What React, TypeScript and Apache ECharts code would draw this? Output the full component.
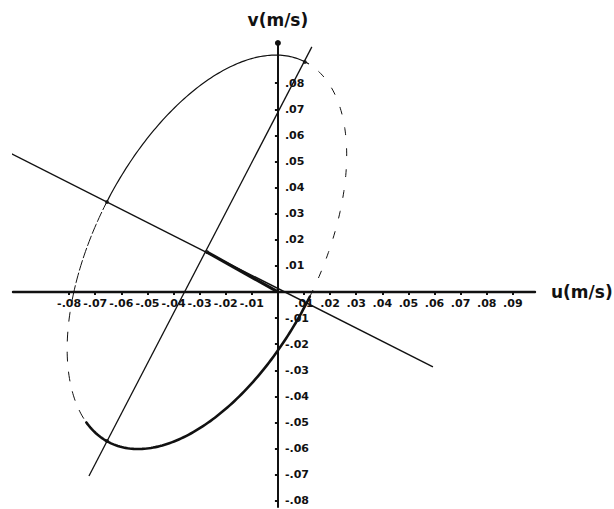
import { useEffect, useRef } from "react";
import * as echarts from "echarts";

// Tick positions and their hand-lettered labels (m/s)
const uTickValues = [-0.08, -0.07, -0.06, -0.05, -0.04, -0.03, -0.02, -0.01, 0.01, 0.02, 0.03, 0.04, 0.05, 0.06, 0.07, 0.08, 0.09];
const uTickLabels = ["-.08", "-.07", "-.06", "-.05", "-.04", "-.03", "-.02", "-.01", ".01", ".02", ".03", ".04", ".05", ".06", ".07", ".08", ".09"];
const vTickValues = [-0.08, -0.07, -0.06, -0.05, -0.04, -0.03, -0.02, -0.01, 0.01, 0.02, 0.03, 0.04, 0.05, 0.06, 0.07, 0.08];
const vTickLabels = ["-.08", "-.07", "-.06", "-.05", "-.04", "-.03", "-.02", "-.01", ".01", ".02", ".03", ".04", ".05", ".06", ".07", ".08"];

// Axis extents (m/s)
const uRange = [-0.1015, 0.0985];
const vRange = [-0.0824, 0.0954];

// Current ellipse: centre (u, v), semi-major / semi-minor axes, orientation of the major axis (deg from +u)
const ellipseCenter = [-0.0272, 0.0153];
const ellipseSemiAxes = [0.082, 0.0429];
const ellipseAngleDeg = 62.7;
// Arcs of the ellipse (phase in degrees, from the upper end of the major axis) and how each is stroked
const ellipseArcs: [number, number, string][] = [
  [-2, 90, "thin"],
  [90, 117, "dash"],
  [117, 165, "sparse"],
  [165, 272, "bold"],
  [272, 358, "dotted"],
];

// Major and minor axis lines, residual current vector, marked points
const majorAxisLine = [[-0.0724, -0.0705], [0.013, 0.0939]];
const minorAxisLine = [[-0.1034, 0.0536], [0.0594, -0.0287]];
const residualVector = [[0, 0], [-0.0272, 0.0153]];
const markedPoints = [[-0.0272, 0.0153], [-0.0655, 0.0345], [-0.0655, -0.0571], [0.0103, 0.0881]];

const INK = "#111";

const GRID = { left: 13, right: 79, top: 43, bottom: 2 };
const WIDTH = 614;
const HEIGHT = 509;

const arcStyles: Record<string, { lineWidth: number; lineDash?: number[] }> = {
  thin: { lineWidth: 1.2 },
  dash: { lineWidth: 1, lineDash: [10, 3] },
  sparse: { lineWidth: 1, lineDash: [9, 11] },
  bold: { lineWidth: 2.6 },
  dotted: { lineWidth: 1, lineDash: [7, 14] },
};

function labelFor(values: number[], labels: string[]) {
  return (value: number) => {
    const i = values.findIndex((t) => Math.abs(t - value) < 1e-6);
    return i >= 0 ? labels[i] : "";
  };
}

export default function App() {
  const ref = useRef<HTMLDivElement>(null);

  useEffect(() => {
    if (!ref.current) return;
    const chart = echarts.init(ref.current, null, { renderer: "svg" });

    // Shift each axis so it runs through the origin, labels included
    const plotW = WIDTH - GRID.left - GRID.right;
    const plotH = HEIGHT - GRID.top - GRID.bottom;
    const xAxisOffset = -(plotH * (0 - vRange[0])) / (vRange[1] - vRange[0]);
    const yAxisOffset = -(plotW * (0 - uRange[0])) / (uRange[1] - uRange[0]);

    const tickLabelStyle = {
      color: INK,
      fontFamily: "DejaVu Sans",
      fontWeight: "bold" as const,
      fontSize: 11,
    };
    const nameStyle = {
      color: INK,
      fontFamily: "DejaVu Sans",
      fontWeight: "bold" as const,
      fontSize: 17,
    };

    chart.setOption({
      animation: false,
      backgroundColor: "#fff",
      grid: {
        ...GRID,
        containLabel: false,
        outerBoundsMode: "none",
      },
      xAxis: {
        type: "value",
        position: "bottom",
        offset: xAxisOffset,
        min: uRange[0],
        max: uRange[1],
        name: "u(m/s)",
        nameLocation: "end",
        nameGap: 16,
        nameTextStyle: { ...nameStyle, verticalAlign: "middle" },
        splitLine: { show: false },
        axisLine: { onZero: false, lineStyle: { color: INK, width: 2.4 } },
        axisTick: {
          show: true,
          customValues: uTickValues,
          length: 3,
          lineStyle: { color: INK, width: 2 },
        },
        axisLabel: {
          show: true,
          customValues: uTickValues,
          formatter: labelFor(uTickValues, uTickLabels),
          margin: 6,
          ...tickLabelStyle,
        },
      },
      yAxis: {
        type: "value",
        position: "left",
        offset: yAxisOffset,
        min: vRange[0],
        max: vRange[1],
        name: "v(m/s)",
        nameLocation: "end",
        nameGap: 15,
        nameTextStyle: nameStyle,
        splitLine: { show: false },
        axisLine: {
          onZero: false,
          symbol: ["none", "circle"],
          symbolSize: [6, 6],
          lineStyle: { color: INK, width: 2 },
        },
        axisTick: {
          show: true,
          customValues: vTickValues,
          length: 3,
          lineStyle: { color: INK, width: 2 },
        },
        axisLabel: {
          show: true,
          inside: true,
          customValues: vTickValues,
          formatter: labelFor(vTickValues, vTickLabels),
          margin: 7,
          ...tickLabelStyle,
        },
      },
      series: [
        {
          type: "custom",
          coordinateSystem: "cartesian2d",
          silent: true,
          data: [ellipseCenter],
          renderItem: (_params: any, api: any) => {
            const [cu, cv] = ellipseCenter;
            const [a, b] = ellipseSemiAxes;
            const th = (ellipseAngleDeg * Math.PI) / 180;
            const children = ellipseArcs.map(([t0, t1, kind]) => {
              const points: number[][] = [];
              for (let t = t0; t <= t1; t += 1) {
                const r = (t * Math.PI) / 180;
                const u = cu + a * Math.cos(r) * Math.cos(th) - b * Math.sin(r) * Math.sin(th);
                const v = cv + a * Math.cos(r) * Math.sin(th) + b * Math.sin(r) * Math.cos(th);
                points.push(api.coord([u, v]));
              }
              const s = arcStyles[kind];
              return {
                type: "polyline",
                shape: { points },
                style: {
                  stroke: INK,
                  fill: "none",
                  lineWidth: s.lineWidth,
                  lineDash: s.lineDash,
                  lineCap: "round",
                },
              };
            });
            return { type: "group", children };
          },
          z: 3,
        },
        {
          type: "line",
          data: majorAxisLine,
          showSymbol: false,
          silent: true,
          lineStyle: { color: INK, width: 1.3 },
          z: 4,
        },
        {
          type: "line",
          data: minorAxisLine,
          showSymbol: false,
          silent: true,
          lineStyle: { color: INK, width: 1.4 },
          z: 4,
        },
        {
          type: "line",
          data: residualVector,
          showSymbol: false,
          silent: true,
          lineStyle: { color: INK, width: 3.2 },
          z: 5,
        },
        {
          type: "scatter",
          data: markedPoints,
          symbolSize: 4,
          silent: true,
          itemStyle: { color: INK },
          z: 6,
        },
      ],
    });

    return () => chart.dispose();
  }, []);

  return (
    <div
      ref={ref}
      style={{ position: "fixed", left: 0, top: 0, width: WIDTH, height: HEIGHT, background: "#fff" }}
    />
  );
}
